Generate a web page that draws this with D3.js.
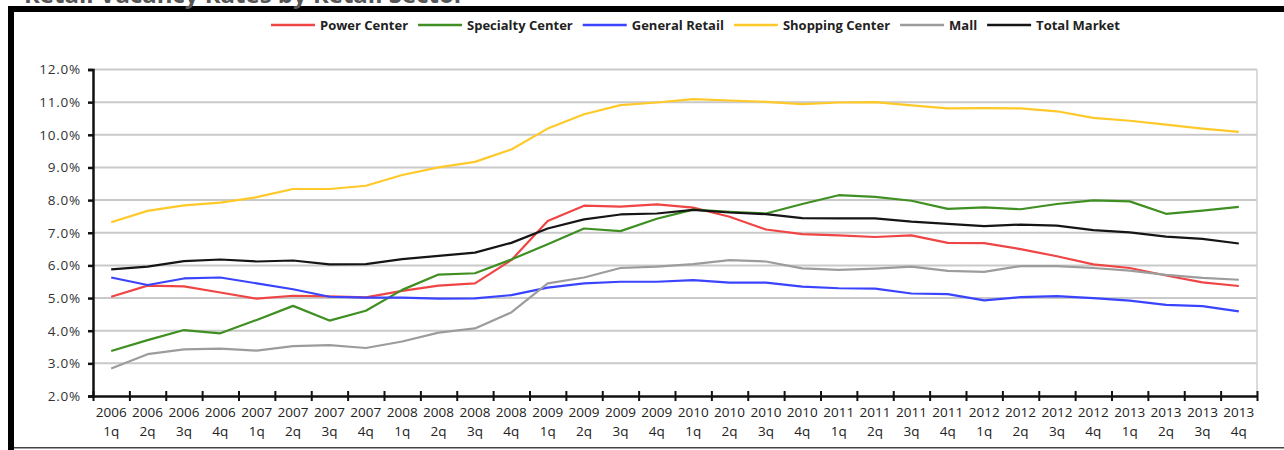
<!DOCTYPE html>
<html>
<head>
<meta charset="utf-8">
<script src="https://cdn.jsdelivr.net/npm/d3@7"></script>
<style>
  html, body { margin: 0; padding: 0; background: #fff; }
  svg { display: block; }
  text { font-family: "Open Sans", "Noto Sans", sans-serif; }
</style>
</head>
<body>
<svg id="chart" width="1284" height="450"></svg>
<script>
// Quarterly retail vacancy rate (%) by sector, 2006 Q1 – 2013 Q4
const years = ["2006","2007","2008","2009","2010","2011","2012","2013"];
const quarters = ["1q","2q","3q","4q"];
const periods = years.flatMap(y => quarters.map(q => ({ year: y, q })));

const powerCenter = [5.04,5.38,5.36,5.17,4.98,5.07,5.05,5.02,5.22,5.38,5.45,6.16,7.36,7.83,7.80,7.87,
                     7.77,7.49,7.10,6.96,6.92,6.87,6.92,6.69,6.68,6.50,6.28,6.03,5.92,5.69,5.48,5.37];
const specialtyCenter = [3.38,3.71,4.02,3.92,4.33,4.76,4.31,4.61,5.25,5.72,5.76,6.18,6.65,7.13,7.05,7.43,
                         7.71,7.64,7.59,7.88,8.15,8.10,7.98,7.73,7.78,7.72,7.88,7.99,7.96,7.58,7.68,7.79];
const generalRetail = [5.63,5.40,5.60,5.63,5.45,5.27,5.04,5.01,5.01,4.98,4.99,5.09,5.32,5.45,5.50,5.50,
                       5.55,5.47,5.47,5.35,5.30,5.29,5.14,5.12,4.93,5.03,5.06,5.00,4.92,4.79,4.75,4.59];
const shoppingCenter = [7.32,7.67,7.84,7.92,8.09,8.34,8.34,8.44,8.77,9.00,9.17,9.55,10.19,10.63,10.91,10.99,
                        11.09,11.05,11.01,10.94,10.99,11.00,10.90,10.81,10.82,10.81,10.72,10.52,10.43,10.31,10.19,10.09];
const mall = [2.84,3.28,3.43,3.45,3.39,3.53,3.56,3.47,3.67,3.94,4.07,4.56,5.45,5.63,5.92,5.96,
              6.04,6.16,6.12,5.91,5.86,5.90,5.96,5.83,5.80,5.98,5.98,5.92,5.84,5.71,5.62,5.56];
const totalMarket = [5.88,5.96,6.13,6.18,6.12,6.15,6.03,6.04,6.19,6.29,6.39,6.69,7.13,7.41,7.56,7.59,
                     7.70,7.62,7.57,7.45,7.44,7.44,7.34,7.27,7.20,7.25,7.22,7.08,7.01,6.88,6.81,6.67];

const seriesNames = ["Power Center","Specialty Center","General Retail","Shopping Center","Mall","Total Market"];
const seriesColors = ["#f04545","#3f8f22","#3a44ff","#ffc929","#9c9c9c","#151515"];
const seriesValues = [powerCenter, specialtyCenter, generalRetail, shoppingCenter, mall, totalMarket];
const yTicks = [2,3,4,5,6,7,8,9,10,11,12];

const svg = d3.select("#chart");

// frame around the figure
svg.append("rect").attr("x", 8).attr("y", 6).attr("width", 1284 - 8).attr("height", 6).attr("fill", "#000");
svg.append("rect").attr("x", 8).attr("y", 6).attr("width", 6).attr("height", 450 - 6).attr("fill", "#000");
svg.append("rect").attr("x", 14).attr("y", 447).attr("width", 1284 - 14).attr("height", 1.5).attr("fill", "#444");

// title (runs off the top edge)
svg.append("text").attr("x", 24).attr("y", 3)
  .attr("font-size", 24).attr("font-weight", 700).attr("fill", "#555")
  .text("Retail Vacancy Rates by Retail Sector");

const plotLeft = 93, plotRight = 1257, plotTop = 69.5, plotBottom = 396;
const x = d3.scaleLinear().domain([0, periods.length]).range([plotLeft, plotRight]);
const y = d3.scaleLinear().domain([2, 12]).range([plotBottom, plotTop]);

// horizontal gridlines
svg.append("g").selectAll("line").data(yTicks.slice(1)).join("line")
  .attr("x1", plotLeft).attr("x2", plotRight)
  .attr("y1", d => y(d)).attr("y2", d => y(d))
  .attr("stroke", "#c9c9c9").attr("stroke-width", 2);

// right edge of the plot area
svg.append("line").attr("x1", plotRight).attr("x2", plotRight).attr("y1", y(12)).attr("y2", y(2))
  .attr("stroke", "#cfcfcf").attr("stroke-width", 1.5);

// y axis
const yAxis = svg.append("g").attr("transform", `translate(${plotLeft},0)`)
  .call(d3.axisLeft(y).tickValues(yTicks).tickSize(5).tickPadding(7).tickFormat(d => d3.format(".1f")(d) + "%"));
yAxis.select(".domain").attr("stroke", "#111").attr("stroke-width", 2.5);
yAxis.selectAll(".tick line").attr("stroke", "#111").attr("stroke-width", 2.5);
yAxis.selectAll(".tick text").attr("font-size", 13.5).attr("fill", "#333")
  .attr("letter-spacing", 0.8)
  .attr("font-family", "\"Open Sans\", sans-serif");

// x axis: ticks on the period boundaries, crossing the axis line
const xAxis = svg.append("g").attr("transform", `translate(0,${plotBottom})`)
  .call(d3.axisBottom(x).tickValues(d3.range(periods.length + 1)).tickSizeInner(5).tickSizeOuter(0).tickFormat(""));
xAxis.select(".domain").attr("stroke", "#111").attr("stroke-width", 2.5);
xAxis.selectAll(".tick line").attr("y1", -5).attr("y2", 5).attr("stroke", "#111").attr("stroke-width", 2);

// period labels, centred in each slot
const labels = svg.append("g").selectAll("text").data(periods).join("text")
  .attr("x", (d, i) => x(i + 0.5))
  .attr("text-anchor", "middle").attr("font-size", 13.5).attr("fill", "#222");
labels.append("tspan").attr("x", (d, i) => x(i + 0.5)).attr("y", 417).text(d => d.year);
labels.append("tspan").attr("x", (d, i) => x(i + 0.5)).attr("y", 436).text(d => d.q);

// series lines
const line = d3.line().x((d, i) => x(i + 0.5)).y(d => y(d));
svg.append("g").selectAll("path").data(seriesValues).join("path")
  .attr("d", d => line(d))
  .attr("fill", "none")
  .attr("stroke", (d, i) => seriesColors[i])
  .attr("stroke-width", 2.2)
  .attr("stroke-linejoin", "round");

// legend: swatch line + bold label, laid out left to right
const legend = svg.append("g").attr("transform", "translate(0,25)");
let cursor = 271;
seriesNames.forEach((name, i) => {
  const item = legend.append("g").attr("transform", `translate(${cursor},0)`);
  item.append("line").attr("x1", 0).attr("x2", 44).attr("y1", 0).attr("y2", 0)
    .attr("stroke", seriesColors[i]).attr("stroke-width", 2.5);
  const t = item.append("text").attr("x", 49).attr("y", 4.5)
    .attr("font-size", 13).attr("font-weight", 700).attr("fill", "#222")
    .text(name);
  cursor += 49 + t.node().getComputedTextLength() + 10;
});
</script>
</body>
</html>
